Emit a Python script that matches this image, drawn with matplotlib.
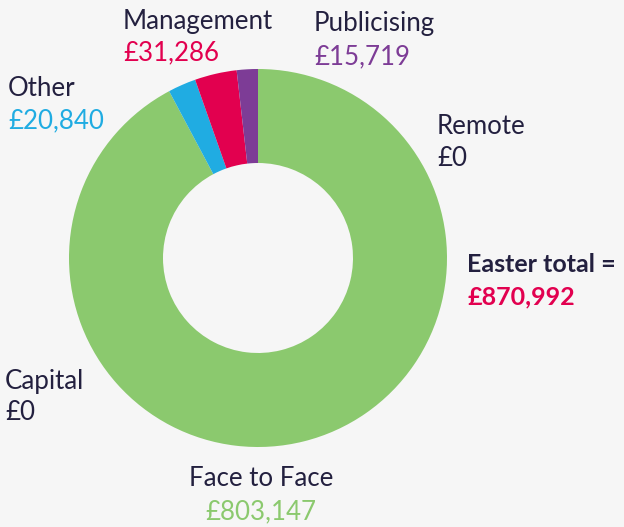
import matplotlib.pyplot as plt

# slice data, clockwise from 12 o'clock
categories = ["Remote", "Face to Face", "Capital", "Other", "Management", "Publicising"]
values = [0, 803147, 0, 20840, 31286, 15719]
colours = ["#8bc96e", "#8bc96e", "#8bc96e", "#20ace2", "#e2004f", "#7d3c96"]
value_colours = ["#23203f", "#8bc96e", "#23203f", "#20ace2", "#e2004f", "#7d3c96"]
total_label = "Easter total ="
total_value = "£870,992"

W, H = 624, 527
BG = "#f6f6f6"
NAVY = "#23203f"

plt.rcParams['font.family'] = ['Lato', 'DejaVu Sans']

fig = plt.figure(figsize=(W / 100, H / 100), dpi=100, facecolor=BG)
ax = fig.add_axes([0, 0, 1, 1])

def py(y):
    # pixel row (from top) -> data y
    return H - y

ax.pie(values, colors=colours, startangle=90, counterclock=False,
       center=(258, py(258)), radius=189, frame=True,
       wedgeprops=dict(width=94, linewidth=0))
ax.set_xlim(0, W)
ax.set_ylim(0, H)
ax.axis('off')

# label positions (pixels): x, y of name, y of value, alignment
label_pos = {
    "Remote": (437, 127, 159, 'left'),
    "Face to Face": (261, 478, 512, 'center'),
    "Capital": (5, 381, 413, 'left'),
    "Other": (8, 89, 121, 'left'),
    "Management": (123, 21, 53, 'left'),
    "Publicising": (314, 24, 57, 'left'),
}

fs = 18.6
for cat, val, vc in zip(categories, values, value_colours):
    x, y1, y2, ha = label_pos[cat]
    ax.text(x, py(y1), cat, color=NAVY, fontsize=fs, ha=ha, va='center')
    ax.text(x, py(y2), f"£{val:,}", color=vc, fontsize=fs, ha=ha, va='center')

ax.text(467, py(265), total_label, color=NAVY, fontsize=18, fontweight='bold',
        ha='left', va='center')
ax.text(467, py(297), total_value, color="#e2004f", fontsize=18, fontweight='bold',
        ha='left', va='center')

fig.savefig("out.png", dpi=100, facecolor=BG)
